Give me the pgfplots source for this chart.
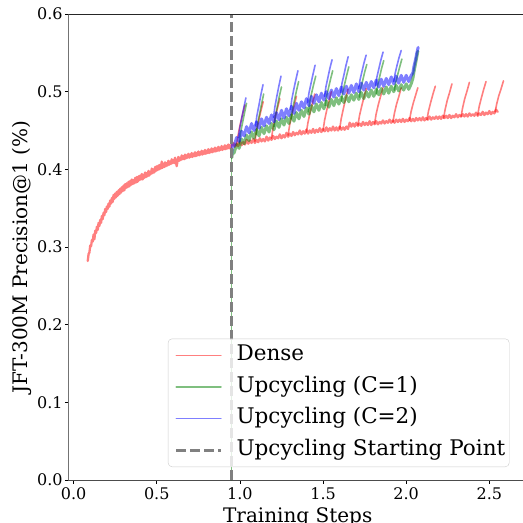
\documentclass[border=0pt]{standalone}
\usepackage{fontspec}
\setmainfont{DejaVu Serif}
\usepackage{pgfplots}
\pgfplotsset{compat=1.18}
\begin{document}
\begin{tikzpicture}
\begin{axis}[
  set layers,
  at={(0,0)}, anchor=south west,
  scale only axis, width=458.8pt, height=466pt,
  xmin=-0.032, xmax=2.727, ymin=0, ymax=0.6,
  axis x line*=bottom, axis y line*=left,
  x axis line style={draw=black!70, line width=1pt},
  y axis line style={draw=black!55, line width=1pt},
  xtick={0,0.5,1,1.5,2,2.5}, ytick={0,0.1,0.2,0.3,0.4,0.5,0.6},
  tick align=outside, major tick length=3.5pt,
  tick style={black, line width=0.8pt},
  scaled ticks=false,
  /pgf/number format/assume math mode=true,
  xticklabel={\pgfmathprintnumber[fixed,fixed zerofill,precision=1]{\tick}},
  yticklabel={\pgfmathprintnumber[fixed,fixed zerofill,precision=1]{\tick}},
  ticklabel style={font=\fontsize{16}{19}\selectfont},
  xticklabel style={inner sep=3.5pt},
  yticklabel style={inner sep=2pt},
  xlabel={Training Steps}, ylabel={JFT-300M Precision@1 (\%)},
  label style={font=\fontsize{20}{24}\selectfont},
  xlabel style={at={(axis description cs:0.5,-0.0579)}, anchor=north, inner sep=0pt},
  ylabel style={at={(axis description cs:-0.0785,0.4785)}, anchor=south, inner sep=0pt},
  legend cell align=left,
  legend style={at={(axis description cs:0.9615,0.0279)}, anchor=south east,
    font=\fontsize{21.5}{25}\selectfont,
    draw=black!20, rounded corners=4pt, fill=white, fill opacity=0.8,
    text opacity=1, draw opacity=1,
    inner xsep=4pt, inner ysep=6.5pt, row sep=11pt, column sep=14pt,
    nodes={inner sep=0pt, text height=15.5pt, text depth=5pt}},
  every axis plot/.append style={line join=round, line cap=round},
]
% ---------------- Dense ----------------
\addplot[draw=red, draw opacity=0.5, line width=2.3pt,
  legend image code/.code={\path[draw=none,fill=none] (0pt,-7pt) rectangle (49pt,7pt); \draw[red, draw opacity=0.5, line width=1.2pt] (4pt,0pt) -- (49pt,0pt);}] coordinates {
(0.085,0.282) (0.090,0.291) (0.095,0.293) (0.100,0.302) (0.105,0.301) (0.110,0.309)
(0.115,0.307) (0.120,0.316) (0.125,0.310) (0.130,0.321) (0.135,0.318) (0.140,0.326)
(0.145,0.322) (0.150,0.331) (0.155,0.327) (0.160,0.335) (0.165,0.331) (0.170,0.340)
(0.175,0.336) (0.180,0.344) (0.185,0.341) (0.190,0.349) (0.195,0.345) (0.200,0.352)
(0.205,0.349) (0.210,0.356) (0.215,0.352) (0.220,0.360) (0.225,0.356) (0.230,0.363)
(0.235,0.358) (0.240,0.367) (0.245,0.362) (0.250,0.369) (0.255,0.364) (0.260,0.371)
(0.265,0.366) (0.270,0.373) (0.275,0.368) (0.280,0.375) (0.285,0.370) (0.290,0.377)
(0.295,0.372) (0.300,0.379) (0.305,0.373) (0.31,0.381) (0.315,0.376) (0.32,0.382)
(0.325,0.377) (0.33,0.384) (0.335,0.378) (0.34,0.385) (0.345,0.380) (0.35,0.387)
(0.355,0.381) (0.36,0.386) (0.365,0.382) (0.37,0.389) (0.375,0.383) (0.38,0.390)
(0.385,0.384) (0.39,0.391) (0.395,0.386) (0.40,0.392) (0.405,0.387) (0.41,0.394)
(0.415,0.387) (0.42,0.393) (0.425,0.389) (0.43,0.396) (0.435,0.390) (0.44,0.395)
(0.445,0.391) (0.45,0.398) (0.455,0.392) (0.46,0.397) (0.465,0.394) (0.47,0.401)
(0.475,0.395) (0.48,0.400) (0.485,0.396) (0.49,0.403) (0.495,0.398) (0.50,0.404)
(0.505,0.399) (0.51,0.405) (0.515,0.400) (0.52,0.406) (0.525,0.401) (0.53,0.410)
(0.535,0.402) (0.54,0.407) (0.545,0.403) (0.55,0.409) (0.555,0.404) (0.56,0.408)
(0.565,0.405) (0.57,0.411) (0.575,0.406) (0.58,0.410) (0.585,0.407) (0.59,0.413)
(0.595,0.408) (0.60,0.412) (0.605,0.408) (0.61,0.415) (0.615,0.410) (0.62,0.404)
(0.625,0.411) (0.63,0.416) (0.635,0.411) (0.64,0.415) (0.645,0.412) (0.65,0.418)
(0.655,0.413) (0.66,0.417) (0.665,0.413) (0.67,0.419) (0.675,0.414) (0.68,0.418)
(0.685,0.415) (0.69,0.420) (0.695,0.415) (0.70,0.419) (0.705,0.416) (0.71,0.421)
(0.715,0.416) (0.72,0.420) (0.725,0.417) (0.73,0.422) (0.735,0.417) (0.74,0.421)
(0.745,0.418) (0.75,0.423) (0.755,0.418) (0.76,0.422) (0.765,0.419) (0.77,0.424)
(0.775,0.419) (0.78,0.423) (0.785,0.420) (0.79,0.425) (0.795,0.420) (0.80,0.424)
(0.805,0.421) (0.81,0.426) (0.815,0.421) (0.82,0.425) (0.825,0.422) (0.83,0.427)
(0.835,0.422) (0.84,0.426) (0.845,0.423) (0.85,0.428) (0.855,0.423) (0.86,0.427)
(0.865,0.424) (0.87,0.429) (0.875,0.424) (0.88,0.428) (0.885,0.425) (0.89,0.430)
(0.895,0.425) (0.90,0.429) (0.905,0.426) (0.91,0.431) (0.915,0.426) (0.92,0.430)
(0.925,0.427) (0.93,0.432) (0.935,0.427) (0.94,0.431) (0.945,0.428) (0.95,0.431)
(0.96,0.434) (0.97,0.429) (0.98,0.433) (0.99,0.430) (1.00,0.436) (1.01,0.431)
(1.02,0.435) (1.03,0.432) (1.04,0.438) (1.05,0.433) (1.06,0.437) (1.07,0.434)
(1.08,0.439) (1.09,0.434) (1.10,0.438) (1.11,0.435) (1.12,0.440) (1.13,0.436)
(1.14,0.439) (1.15,0.436) (1.16,0.442) (1.17,0.437) (1.18,0.441) (1.19,0.438)
(1.20,0.443) (1.21,0.439) (1.22,0.442) (1.23,0.440) (1.24,0.445) (1.25,0.440)
(1.26,0.444) (1.27,0.441) (1.28,0.447) (1.29,0.442) (1.30,0.446) (1.31,0.443)
(1.32,0.448) (1.33,0.444) (1.34,0.447) (1.35,0.445) (1.36,0.450) (1.37,0.445)
(1.38,0.449) (1.39,0.446) (1.40,0.451) (1.41,0.446) (1.42,0.450) (1.43,0.447)
(1.44,0.452) (1.45,0.447) (1.46,0.451) (1.47,0.448) (1.48,0.453) (1.49,0.448)
(1.50,0.452) (1.51,0.449) (1.52,0.454) (1.53,0.449) (1.54,0.453) (1.55,0.450)
(1.56,0.455) (1.57,0.450) (1.58,0.454) (1.59,0.450) (1.60,0.455) (1.61,0.451)
(1.62,0.454) (1.63,0.451) (1.64,0.455) (1.65,0.452)
(1.66,0.460) (1.67,0.455) (1.68,0.459) (1.69,0.455) (1.70,0.460) (1.71,0.456)
(1.72,0.459) (1.73,0.456) (1.74,0.461) (1.75,0.457) (1.76,0.460) (1.77,0.457)
(1.78,0.462) (1.79,0.457) (1.80,0.461) (1.81,0.458) (1.82,0.462) (1.83,0.458)
(1.84,0.461) (1.85,0.459) (1.86,0.463) (1.87,0.459) (1.88,0.462) (1.89,0.460)
(1.90,0.464) (1.91,0.460) (1.92,0.463) (1.93,0.460) (1.94,0.464) (1.95,0.461)
(1.96,0.464) (1.97,0.461) (1.98,0.465) (1.99,0.461) (2.00,0.464) (2.01,0.462)
(2.02,0.466) (2.03,0.462) (2.04,0.465) (2.05,0.462) (2.06,0.466) (2.07,0.463)
(2.08,0.466) (2.09,0.463) (2.10,0.467) (2.11,0.463) (2.12,0.466) (2.13,0.464)
(2.14,0.468) (2.15,0.464) (2.16,0.467) (2.17,0.465) (2.18,0.468) (2.19,0.465)
(2.20,0.468) (2.21,0.465) (2.22,0.469) (2.23,0.466) (2.24,0.469) (2.25,0.466)
(2.26,0.470) (2.27,0.466) (2.28,0.469) (2.29,0.467) (2.30,0.471) (2.31,0.467)
(2.32,0.470) (2.33,0.468) (2.34,0.471) (2.35,0.468) (2.36,0.471) (2.37,0.468)
(2.38,0.472) (2.39,0.469) (2.40,0.471) (2.41,0.469) (2.42,0.473) (2.43,0.469)
(2.44,0.472) (2.45,0.470) (2.46,0.474) (2.47,0.470) (2.48,0.473) (2.49,0.471)
(2.50,0.475) (2.51,0.471) (2.52,0.474) (2.53,0.472) (2.54,0.477) (2.55,0.474)
};
\addlegendentry{Dense}
\addplot[forget plot, draw=red, draw opacity=0.5, line width=1.6pt] coordinates {(0.98,0.431) (0.989,0.444) (1.002,0.458) (1.016,0.471) (1.03,0.483)};
\addplot[forget plot, draw=red, draw opacity=0.5, line width=1.6pt] coordinates {(1.09,0.436) (1.099,0.449) (1.112,0.462) (1.126,0.475) (1.14,0.487)};
\addplot[forget plot, draw=red, draw opacity=0.5, line width=1.6pt] coordinates {(1.19,0.440) (1.199,0.453) (1.212,0.467) (1.226,0.479) (1.24,0.491)};
\addplot[forget plot, draw=red, draw opacity=0.5, line width=1.6pt] coordinates {(1.29,0.444) (1.299,0.457) (1.312,0.470) (1.326,0.482) (1.34,0.494)};
\addplot[forget plot, draw=red, draw opacity=0.5, line width=1.6pt] coordinates {(1.40,0.448) (1.409,0.460) (1.422,0.473) (1.436,0.485) (1.45,0.497)};
\addplot[forget plot, draw=red, draw opacity=0.5, line width=1.6pt] coordinates {(1.50,0.450) (1.509,0.463) (1.522,0.476) (1.536,0.488) (1.55,0.500)};
\addplot[forget plot, draw=red, draw opacity=0.5, line width=1.6pt] coordinates {(1.60,0.452) (1.609,0.465) (1.622,0.478) (1.636,0.491) (1.65,0.503)};
\addplot[forget plot, draw=red, draw opacity=0.5, line width=1.6pt] coordinates {(1.71,0.457) (1.719,0.469) (1.732,0.481) (1.746,0.493) (1.76,0.504)};
\addplot[forget plot, draw=red, draw opacity=0.5, line width=1.6pt] coordinates {(1.81,0.459) (1.819,0.471) (1.832,0.483) (1.846,0.494) (1.86,0.505)};
\addplot[forget plot, draw=red, draw opacity=0.5, line width=1.6pt] coordinates {(1.92,0.461) (1.929,0.472) (1.942,0.484) (1.956,0.494) (1.97,0.505)};
\addplot[forget plot, draw=red, draw opacity=0.5, line width=1.6pt] coordinates {(2.02,0.463) (2.029,0.474) (2.042,0.485) (2.056,0.495) (2.07,0.505)};
\addplot[forget plot, draw=red, draw opacity=0.5, line width=1.6pt] coordinates {(2.125,0.464) (2.134,0.475) (2.147,0.486) (2.161,0.497) (2.175,0.507)};
\addplot[forget plot, draw=red, draw opacity=0.5, line width=1.6pt] coordinates {(2.225,0.466) (2.234,0.477) (2.247,0.489) (2.261,0.499) (2.275,0.510)};
\addplot[forget plot, draw=red, draw opacity=0.5, line width=1.6pt] coordinates {(2.33,0.468) (2.339,0.479) (2.352,0.491) (2.366,0.501) (2.38,0.512)};
\addplot[forget plot, draw=red, draw opacity=0.5, line width=1.6pt] coordinates {(2.43,0.470) (2.439,0.481) (2.452,0.492) (2.466,0.503) (2.48,0.513)};
\addplot[forget plot, draw=red, draw opacity=0.5, line width=1.6pt] coordinates {(2.535,0.474) (2.544,0.484) (2.557,0.495) (2.571,0.504) (2.585,0.514)};
% ---------------- Upcycling C=1 ----------------
\addplot[draw=green!50!black, draw opacity=0.5, line width=3pt,
  legend image code/.code={\path[draw=none,fill=none] (0pt,-7pt) rectangle (49pt,7pt); \draw[green!50!black, draw opacity=0.5, line width=1.2pt] (4pt,0pt) -- (49pt,0pt);}] coordinates {
(0.951,0.415) (0.958,0.424) (0.965,0.421) (0.980,0.432) (0.995,0.427)
(1.010,0.439) (1.025,0.433) (1.040,0.444) (1.055,0.437) (1.070,0.448) (1.085,0.440)
(1.100,0.451) (1.115,0.443) (1.130,0.454) (1.145,0.446) (1.160,0.456) (1.175,0.448)
(1.190,0.459) (1.205,0.451) (1.220,0.462) (1.235,0.454) (1.250,0.465) (1.265,0.457)
(1.280,0.467) (1.295,0.459) (1.310,0.470) (1.325,0.462) (1.340,0.473) (1.355,0.465)
(1.370,0.476) (1.385,0.468) (1.400,0.479) (1.415,0.471) (1.430,0.482) (1.445,0.474)
(1.460,0.484) (1.475,0.476) (1.490,0.486) (1.505,0.478) (1.520,0.488) (1.535,0.480)
(1.550,0.490) (1.565,0.482) (1.580,0.492) (1.595,0.484) (1.610,0.493) (1.625,0.486)
(1.640,0.495) (1.655,0.487) (1.670,0.496) (1.685,0.489) (1.700,0.498) (1.715,0.490)
(1.730,0.499) (1.745,0.491) (1.760,0.500) (1.775,0.493) (1.790,0.502) (1.805,0.494)
(1.820,0.503) (1.835,0.496) (1.850,0.504) (1.865,0.497) (1.880,0.506) (1.895,0.498)
(1.910,0.507) (1.925,0.500) (1.940,0.508) (1.955,0.501) (1.970,0.509) (1.985,0.502)
(2.000,0.510) (2.015,0.503) (2.030,0.510) (2.040,0.517) (2.048,0.527) (2.056,0.536)
(2.064,0.545) (2.070,0.552)
};
\addlegendentry{Upcycling (C=1)}
\addplot[forget plot, draw=green!50!black, draw opacity=0.5, line width=0.9pt] coordinates {(0.951,0.0) (0.951,0.415)};
\addplot[forget plot, draw=green!50!black, draw opacity=0.5, line width=1.6pt] coordinates {(0.995,0.433) (1.003,0.446) (1.015,0.459) (1.027,0.472) (1.04,0.485)};
\addplot[forget plot, draw=green!50!black, draw opacity=0.5, line width=1.6pt] coordinates {(1.098,0.445) (1.106,0.458) (1.118,0.471) (1.130,0.484) (1.143,0.497)};
\addplot[forget plot, draw=green!50!black, draw opacity=0.5, line width=1.6pt] coordinates {(1.205,0.455) (1.213,0.468) (1.225,0.481) (1.237,0.494) (1.25,0.506)};
\addplot[forget plot, draw=green!50!black, draw opacity=0.5, line width=1.6pt] coordinates {(1.308,0.465) (1.316,0.477) (1.328,0.489) (1.340,0.501) (1.353,0.513)};
\addplot[forget plot, draw=green!50!black, draw opacity=0.5, line width=1.6pt] coordinates {(1.411,0.474) (1.419,0.486) (1.431,0.498) (1.443,0.509) (1.456,0.520)};
\addplot[forget plot, draw=green!50!black, draw opacity=0.5, line width=1.6pt] coordinates {(1.513,0.482) (1.521,0.494) (1.533,0.505) (1.545,0.516) (1.558,0.527)};
\addplot[forget plot, draw=green!50!black, draw opacity=0.5, line width=1.6pt] coordinates {(1.61,0.488) (1.618,0.499) (1.630,0.510) (1.642,0.521) (1.655,0.532)};
\addplot[forget plot, draw=green!50!black, draw opacity=0.5, line width=1.6pt] coordinates {(1.718,0.493) (1.726,0.504) (1.738,0.514) (1.750,0.525) (1.763,0.535)};
\addplot[forget plot, draw=green!50!black, draw opacity=0.5, line width=1.6pt] coordinates {(1.82,0.497) (1.828,0.508) (1.840,0.519) (1.852,0.530) (1.865,0.540)};
\addplot[forget plot, draw=green!50!black, draw opacity=0.5, line width=1.6pt] coordinates {(1.929,0.502) (1.937,0.512) (1.949,0.522) (1.961,0.532) (1.974,0.542)};
% ---------------- Upcycling C=2 ----------------
\addplot[draw=blue, draw opacity=0.5, line width=3pt,
  legend image code/.code={\path[draw=none,fill=none] (0pt,-7pt) rectangle (49pt,7pt); \draw[blue, draw opacity=0.5, line width=1.2pt] (4pt,0pt) -- (49pt,0pt);}] coordinates {
(0.950,0.418) (0.955,0.432) (0.965,0.430) (0.980,0.441) (0.995,0.436) (1.010,0.449)
(1.025,0.443) (1.040,0.455) (1.055,0.447) (1.070,0.459) (1.085,0.450) (1.100,0.461)
(1.115,0.453) (1.130,0.465) (1.145,0.456) (1.160,0.467) (1.175,0.459) (1.190,0.470)
(1.205,0.461) (1.220,0.473) (1.235,0.464) (1.250,0.476) (1.265,0.466) (1.280,0.478)
(1.295,0.469) (1.310,0.481) (1.325,0.472) (1.340,0.485) (1.355,0.476) (1.370,0.487)
(1.385,0.479) (1.400,0.491) (1.415,0.482) (1.430,0.494) (1.445,0.485) (1.460,0.496)
(1.475,0.487) (1.490,0.498) (1.505,0.489) (1.520,0.500) (1.535,0.491) (1.550,0.502)
(1.565,0.493) (1.580,0.504) (1.595,0.495) (1.610,0.506) (1.625,0.497) (1.640,0.507)
(1.655,0.498) (1.670,0.508) (1.685,0.499) (1.700,0.510) (1.715,0.500) (1.730,0.511)
(1.745,0.502) (1.760,0.512) (1.775,0.503) (1.790,0.513) (1.805,0.505) (1.820,0.515)
(1.835,0.506) (1.850,0.516) (1.865,0.507) (1.880,0.517) (1.895,0.509) (1.910,0.519)
(1.925,0.510) (1.940,0.520) (1.955,0.511) (1.970,0.521) (1.985,0.512) (2.000,0.521)
(2.015,0.513) (2.030,0.521) (2.040,0.524) (2.048,0.534) (2.056,0.541) (2.064,0.550)
(2.072,0.557)
};
\addlegendentry{Upcycling (C=2)}
\addplot[forget plot, draw=blue, draw opacity=0.5, line width=1.6pt] coordinates {(0.991,0.441) (0.999,0.453) (1.011,0.466) (1.023,0.479) (1.036,0.492)};
\addplot[forget plot, draw=blue, draw opacity=0.5, line width=1.6pt] coordinates {(1.094,0.456) (1.102,0.469) (1.114,0.482) (1.126,0.496) (1.139,0.509)};
\addplot[forget plot, draw=blue, draw opacity=0.5, line width=1.6pt] coordinates {(1.202,0.467) (1.210,0.480) (1.222,0.494) (1.234,0.507) (1.247,0.520)};
\addplot[forget plot, draw=blue, draw opacity=0.5, line width=1.6pt] coordinates {(1.304,0.477) (1.312,0.490) (1.324,0.503) (1.336,0.515) (1.349,0.527)};
\addplot[forget plot, draw=blue, draw opacity=0.5, line width=1.6pt] coordinates {(1.407,0.486) (1.415,0.498) (1.427,0.510) (1.439,0.522) (1.452,0.534)};
\addplot[forget plot, draw=blue, draw opacity=0.5, line width=1.6pt] coordinates {(1.509,0.494) (1.517,0.506) (1.529,0.518) (1.541,0.530) (1.554,0.541)};
\addplot[forget plot, draw=blue, draw opacity=0.5, line width=1.6pt] coordinates {(1.606,0.499) (1.614,0.511) (1.626,0.522) (1.638,0.534) (1.651,0.545)};
\addplot[forget plot, draw=blue, draw opacity=0.5, line width=1.6pt] coordinates {(1.714,0.504) (1.722,0.515) (1.734,0.526) (1.746,0.537) (1.759,0.547)};
\addplot[forget plot, draw=blue, draw opacity=0.5, line width=1.6pt] coordinates {(1.816,0.508) (1.824,0.519) (1.836,0.530) (1.848,0.541) (1.861,0.551)};
\addplot[forget plot, draw=blue, draw opacity=0.5, line width=1.6pt] coordinates {(1.925,0.513) (1.933,0.523) (1.945,0.534) (1.957,0.544) (1.970,0.553)};
% ---------------- Starting point ----------------
\addplot[draw=black!50, line width=3pt, line cap=butt, dash pattern=on 10pt off 4pt,
  legend image code/.code={\path[draw=none,fill=none] (0pt,-7pt) rectangle (49pt,7pt); \draw[black!50, line width=3pt, dash pattern=on 10pt off 4pt] (4pt,0pt) -- (49pt,0pt);}] coordinates {(0.952,0) (0.952,0.6)};
\addlegendentry{Upcycling Starting Point}
\draw[black!85, line width=1pt] (rel axis cs:0,1) -- (rel axis cs:1,1);
\node[anchor=north east, inner sep=0pt, font=\fontsize{10}{12}\selectfont] at (rel axis cs:1,0) [yshift=-24pt] {1e6};
\end{axis}
\pgfresetboundingbox
\path[use as bounding box] (-68.3pt,-43pt) rectangle (454.7pt,480pt);
\end{tikzpicture}
\end{document}
